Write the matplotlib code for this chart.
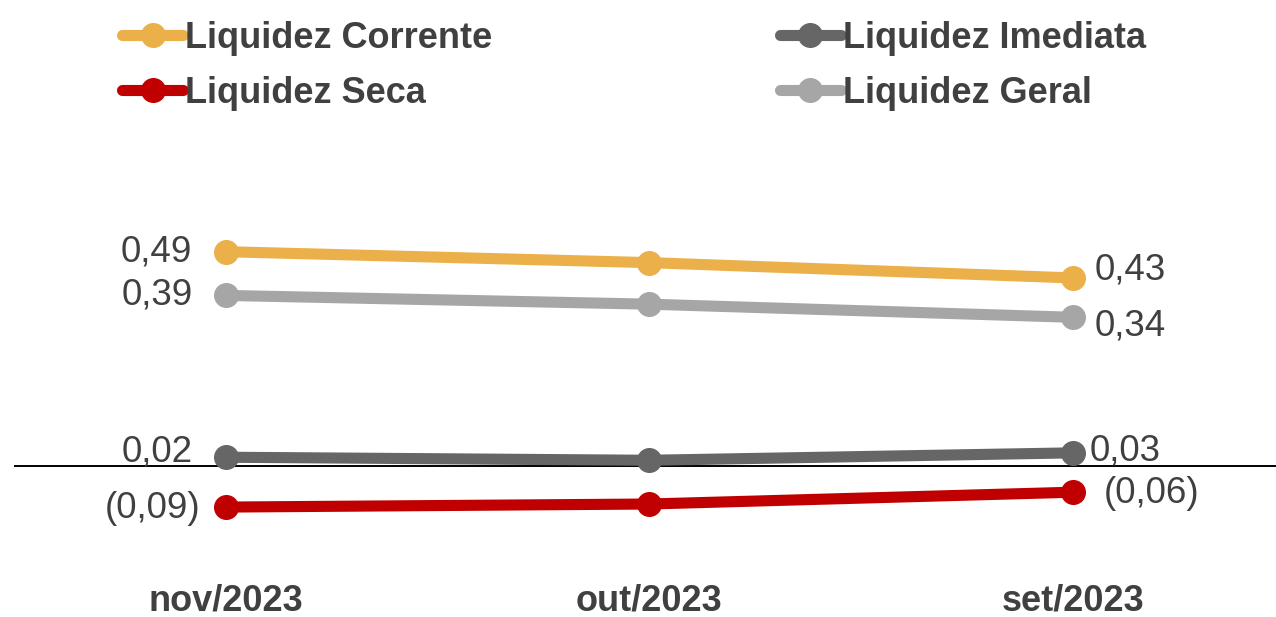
import matplotlib.pyplot as plt

# data
months = ["nov/2023", "out/2023", "set/2023"]
corrente = [0.49, 0.465, 0.43]
imediata = [0.02, 0.013, 0.03]
seca = [-0.094, -0.087, -0.06]
geral = [0.39, 0.37, 0.34]

plt.rcParams['font.family'] = ['Liberation Sans', 'DejaVu Sans']
txt = "#404040"

fig = plt.figure(figsize=(12.76, 6.17), dpi=100)
ax = fig.add_axes([0.011, 0.0924, 0.989, 0.584])

def fmt(v):
    s = f"{abs(v):.2f}".replace(".", ",")
    return f"({s})" if v < 0 else s

series = [
    ("Liquidez Corrente", corrente, "#EBB04A", (-24, 0), (16, 6)),
    ("Liquidez Imediata", imediata, "#666666", (-24, 4), (12, 1)),
    ("Liquidez Seca", seca, "#C00000", (-18, -1), (22, -1)),
    ("Liquidez Geral", geral, "#A6A6A6", (-24, 0), (16, -6)),
]
x = list(range(len(months)))
for name, vals, col, off_l, off_r in series:
    ax.plot(x, vals, color=col, lw=8, marker="o", ms=17, label=name,
            solid_capstyle="round")
    ax.annotate(fmt(vals[0]), (x[0], vals[0]), xytext=off_l, textcoords="offset points",
                ha="right", va="center", fontsize=26.5, color=txt)
    ax.annotate(fmt(vals[-1]), (x[-1], vals[-1]), xytext=off_r, textcoords="offset points",
                ha="left", va="center", fontsize=26.5, color=txt)

ax.axhline(0, color="black", lw=1.4, zorder=0)
ax.set_xlim(-0.5, 2.48)
ax.set_ylim(-0.215, 0.609)
ax.set_xticks(x)
ax.set_xticklabels(months, fontsize=26, fontweight="bold", color=txt)
ax.tick_params(axis="x", length=0, pad=17)
ax.set_yticks([])
for s in ax.spines.values():
    s.set_visible(False)

handles, labels = ax.get_legend_handles_labels()
order = [0, 2, 1, 3]
fig.legend([handles[i] for i in order], [labels[i] for i in order],
           loc="upper left", bbox_to_anchor=(122 / 1276, 1 - 21 / 617), ncol=2,
           frameon=False, borderpad=0, borderaxespad=0, handlelength=1.7,
           handletextpad=0.05, columnspacing=7.95, labelspacing=0.55,
           prop={"size": 26, "weight": "bold"}, labelcolor=txt)

fig.savefig("out.png", dpi=100)
